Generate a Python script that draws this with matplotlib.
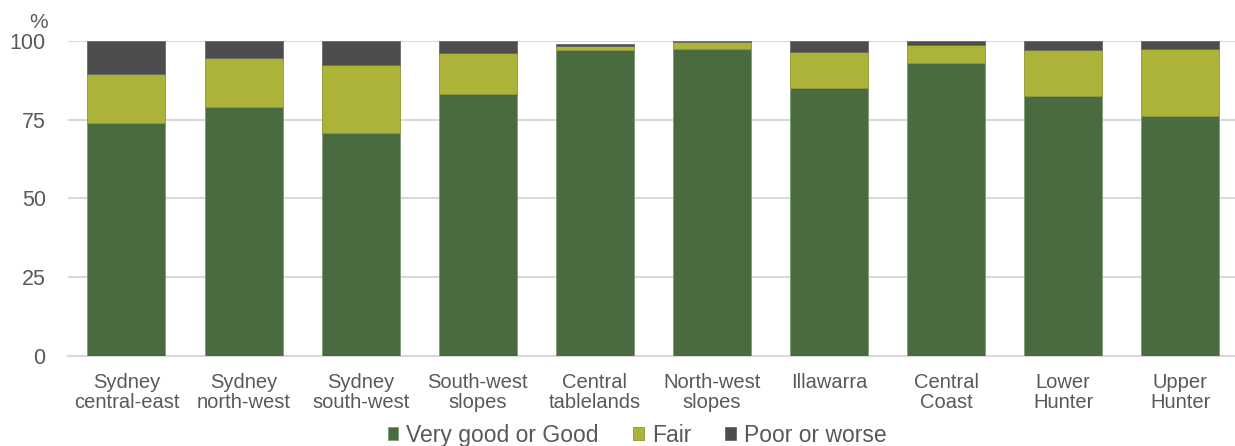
import matplotlib.pyplot as plt
import numpy as np

plt.rcParams['font.family'] = ['Liberation Sans', 'DejaVu Sans']

regions = ['Sydney\ncentral-east', 'Sydney\nnorth-west', 'Sydney\nsouth-west',
           'South-west\nslopes', 'Central\ntablelands', 'North-west\nslopes',
           'Illawarra', 'Central\nCoast', 'Lower\nHunter', 'Upper\nHunter']
good = [73.9, 79.1, 70.6, 83.1, 97.1, 97.4, 84.9, 92.8, 82.4, 76.0]
fair = [15.4, 15.5, 21.8, 12.9, 1.3, 2.1, 11.5, 5.7, 14.7, 21.4]
poor = [10.7, 5.4, 7.6, 4.0, 0.5, 0.5, 3.6, 1.5, 2.9, 2.6]

c_good = '#4A6B40'
c_fair = '#ADB239'
c_poor = '#4D4D4F'
txt = '#595959'

fig = plt.figure(figsize=(12.35, 4.46), dpi=100)
ax = fig.add_axes([0.055, 0.2018, 0.948, 0.707])

x = np.arange(len(regions))
w = 0.666
ax.bar(x, good, w, color=c_good, edgecolor='#7F9A75', linewidth=0.6, label='Very good or Good', zorder=3)
ax.bar(x, fair, w, bottom=good, color=c_fair, edgecolor='#8F9530', linewidth=0.6, label='Fair', zorder=3)
ax.bar(x, poor, w, bottom=np.array(good) + np.array(fair), color=c_poor, edgecolor='#6A6A6A',
       linewidth=0.6, label='Poor or worse', zorder=3)

ax.set_xlim(-0.5, len(regions) - 0.5)
ax.set_ylim(0, 100)
ax.set_yticks([0, 25, 50, 75, 100])
ax.yaxis.grid(True, color='#D9D9D9', linewidth=1.5, zorder=0)
for s in ['top', 'right', 'left']:
    ax.spines[s].set_visible(False)
ax.spines['bottom'].set_color('#D9D9D9')
ax.spines['bottom'].set_linewidth(1.5)
ax.tick_params(axis='both', length=0, colors=txt)
ax.tick_params(axis='y', pad=16, labelsize=15.5)
ax.tick_params(axis='x', pad=12)
ax.set_xticks(x)
ax.set_xticklabels(regions, fontsize=14.5, linespacing=1.1)

fig.text(0.0315, 0.95, '%', fontsize=15, color=txt, ha='center', va='center')

leg = fig.legend(loc='center', bbox_to_anchor=(0.516, 0.024), ncol=3, frameon=False,
                 fontsize=16.5, handlelength=0.45, handleheight=0.45, handletextpad=0.35,
                 columnspacing=1.5, borderpad=0)
for t in leg.get_texts():
    t.set_color(txt)

fig.savefig('out.png', dpi=100)
